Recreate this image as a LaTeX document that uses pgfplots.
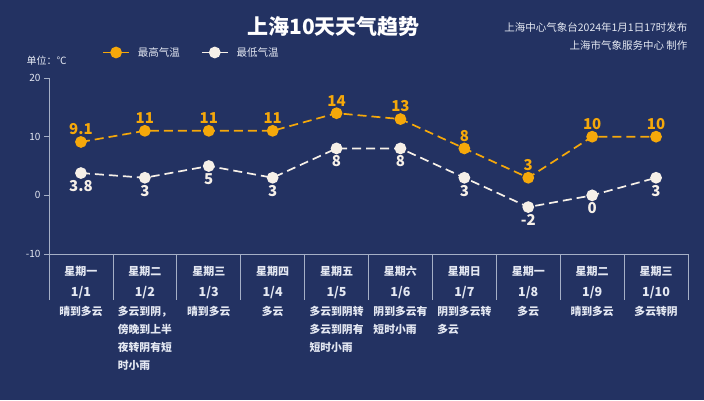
\documentclass[border=0pt]{standalone}
\usepackage{fontspec}
\setmainfont{Noto Sans CJK SC}
\usepackage{pgfplots}
\pgfplotsset{compat=1.18}
\definecolor{bg}{RGB}{35,50,98}
\definecolor{hi}{RGB}{245,168,10}
\definecolor{lo}{RGB}{246,240,232}
\definecolor{axc}{RGB}{165,175,198}
\definecolor{txt}{RGB}{228,232,242}
\newcommand\dl[2]{#1\\[5.5pt]{\fontsize{12.5}{14}\selectfont #2}}
\tikzset{wx/.style={anchor=north,yshift=-49pt,align=left,text=txt,font=\bfseries\fontsize{10.8}{18}\selectfont}}

\begin{document}
\begin{tikzpicture}
\useasboundingbox (0,0) rectangle (704pt,-400pt);
\fill[bg] (0,0) rectangle (704pt,-400pt);
\node[font=\bfseries\fontsize{21}{21}\selectfont,text=white] at (333.5pt,-27pt) {上海10天天气趋势};
\node[anchor=east,font=\fontsize{10.5}{12}\selectfont,text=txt] at (691pt,-28pt) {上海中心气象台2024年1月1日17时发布};
\node[anchor=east,font=\fontsize{10.5}{12}\selectfont,text=txt] at (691pt,-45pt) {上海市气象服务中心 制作};
\node[anchor=west,font=\fontsize{10}{12}\selectfont,text=txt] at (23pt,-61pt) {单位：℃};

\begin{axis}[
at={(49pt,-254pt)},anchor=south west,
scale only axis,width=639pt,height=176pt,
xmin=-0.5,xmax=9.5,ymin=-10,ymax=20,
clip=false,
axis lines=left,axis line style={-,draw=axc,line width=0.8pt},
ytick={-10,0,10,20},
tick align=outside,major tick length=5pt,
ytick style={draw=axc,line width=0.8pt},
xtick={0,...,9},xtick style={draw=none},
xticklabels={\dl{星期一}{1/1},\dl{星期二}{1/2},\dl{星期三}{1/3},\dl{星期四}{1/4},\dl{星期五}{1/5},
\dl{星期六}{1/6},\dl{星期日}{1/7},\dl{星期一}{1/8},\dl{星期二}{1/9},\dl{星期三}{1/10}},
xticklabel style={align=center,text=txt,font=\bfseries\fontsize{11}{15}\selectfont,yshift=-4pt},
yticklabel style={text=txt,font=\fontsize{10}{12}\selectfont},
/pgf/number format/assume math mode=true,
legend columns=2,
legend style={at={(axis description cs:0.083,1.145)},anchor=west,draw=none,fill=none,
  inner sep=0pt,text=txt,font=\fontsize{10.5}{12}\selectfont,
  /tikz/every odd column/.append style={column sep=6pt},
  /tikz/every even column/.append style={column sep=19pt}},
legend image code/.code={\draw[mark repeat=2,mark phase=2,#1,solid] plot coordinates {(0pt,0pt) (13pt,0pt) (26pt,0pt)};},
]
\addplot[hi,line width=1.7pt,dash pattern=on 9pt off 5pt,mark=*,mark size=5pt,
  mark options={solid,fill=hi,draw=hi},
  point meta=explicit symbolic,nodes near coords,
  every node near coord/.append style={text=hi,font=\bfseries\fontsize{15}{15}\selectfont,anchor=south,yshift=3pt}]
coordinates {(0,9.1)[9.1] (1,11)[11] (2,11)[11] (3,11)[11] (4,14)[14] (5,13)[13] (6,8)[8] (7,3)[3] (8,10)[10] (9,10)[10]};
\addlegendentry{最高气温}
\addplot[lo,line width=1.7pt,dash pattern=on 9pt off 5pt,mark=*,mark size=5pt,
  mark options={solid,fill=lo,draw=lo},
  point meta=explicit symbolic,nodes near coords,
  every node near coord/.append style={text=lo,font=\bfseries\fontsize{15}{15}\selectfont,anchor=north,yshift=-3pt}]
coordinates {(0,3.8)[3.8] (1,3)[3] (2,5)[5] (3,3)[3] (4,8)[8] (5,8)[8] (6,3)[3] (7,-2)[-2] (8,0)[0] (9,3)[3]};
\addlegendentry{最低气温}
\pgfplotsinvokeforeach{-0.5,0.5,...,9.5}{\draw[axc,line width=0.8pt] (axis cs:#1,-10) -- ++(0pt,-46pt);}
\node[wx] at (axis cs:0,-10) {晴到多云};
\node[wx] at (axis cs:1,-10) {多云到阴，\\傍晚到上半\\夜转阴有短\\时小雨};
\node[wx] at (axis cs:2,-10) {晴到多云};
\node[wx] at (axis cs:3,-10) {多云};
\node[wx] at (axis cs:4,-10) {多云到阴转\\多云到阴有\\短时小雨};
\node[wx] at (axis cs:5,-10) {阴到多云有\\短时小雨};
\node[wx] at (axis cs:6,-10) {阴到多云转\\多云};
\node[wx] at (axis cs:7,-10) {多云};
\node[wx] at (axis cs:8,-10) {晴到多云};
\node[wx] at (axis cs:9,-10) {多云转阴};
\end{axis}
\end{tikzpicture}
\end{document}
